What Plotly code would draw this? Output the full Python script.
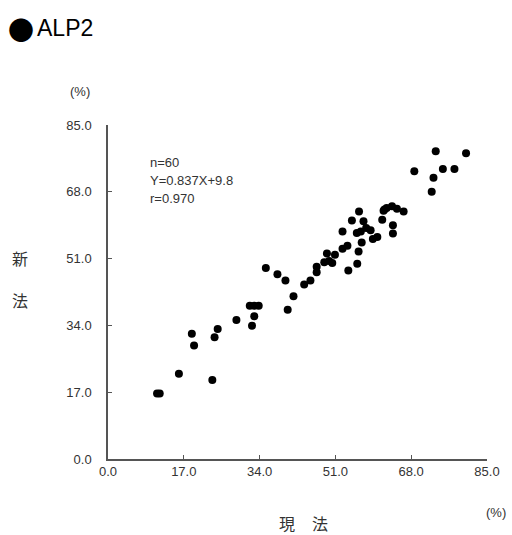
import plotly.graph_objects as go

current_method = [11.0, 11.6, 15.9, 18.8, 19.3, 23.4, 23.9, 24.6, 28.8, 32.3,
                  32.8, 31.8, 32.8, 33.8, 35.4, 38.0, 39.8, 40.3, 41.6, 44.0,
                  45.4, 46.8, 46.8, 48.5, 50.3, 49.6, 49.1, 50.9, 53.9, 55.9,
                  52.6, 53.7, 56.2, 56.9, 52.6, 55.8, 56.7, 57.9, 58.9, 59.4,
                  60.4, 54.7, 57.3, 56.3, 61.5, 61.8, 62.5, 63.7, 64.8, 66.3,
                  63.9, 63.9, 62.0, 68.7, 72.6, 73.0, 73.5, 75.1, 77.7, 80.3]
new_method = [16.7, 16.7, 21.7, 31.9, 28.9, 20.1, 31.0, 33.1, 35.4, 33.9,
              36.3, 39.0, 39.0, 39.0, 48.6, 47.0, 45.4, 38.0, 41.4, 44.4,
              45.4, 47.5, 48.9, 50.1, 49.9, 50.4, 52.3, 52.0, 48.0, 49.7,
              53.5, 54.3, 52.8, 55.1, 57.9, 57.5, 57.9, 58.8, 58.2, 56.0,
              56.5, 60.7, 60.5, 63.0, 60.9, 63.2, 63.9, 64.3, 63.7, 63.0,
              59.5, 57.4, 63.5, 73.2, 68.0, 71.6, 78.3, 73.8, 73.8, 77.8]
tick_vals = [0, 17, 34, 51, 68, 85]
tick_text = ["0.0", "17.0", "34.0", "51.0", "68.0", "85.0"]

FONT = "Liberation Sans, Arial, sans-serif"
CJK = "Noto Sans CJK JP"
GRAY = "#333333"

fig = go.Figure()
fig.add_trace(go.Scatter(
    x=current_method, y=new_method, mode="markers",
    marker=dict(color="black", size=8), cliponaxis=False, hoverinfo="skip"))

axis_common = dict(
    range=[0, 85], tickvals=tick_vals, ticktext=tick_text,
    showline=True, linecolor="#555555", linewidth=1.5, mirror=False,
    ticks="inside", ticklen=4, tickwidth=1, tickcolor="#555555",
    showgrid=False, zeroline=False,
    tickfont=dict(family=FONT, size=13, color=GRAY),
)

fig.update_xaxes(**axis_common, ticklabelstandoff=0)
fig.update_yaxes(**axis_common, ticklabelstandoff=12)

PL, PR, PT, PB = 108, 487, 125, 459


def px_to_paper(px, py):
    return (px - PL) / (PR - PL), (PB - py) / (PB - PT)


def add_text(text, px, py, font, xanchor="center"):
    x, y = px_to_paper(px, py)
    annotations.append(dict(text=text, x=x, y=y, xref="paper", yref="paper",
                            showarrow=False, xanchor=xanchor, yanchor="middle",
                            font=font))


annotations = []
add_text("●", 21, 28, dict(family=CJK, size=26, color="black"))
add_text("ALP2", 35, 28, dict(family=FONT, size=23, color="black"), "left")
add_text("(%)", 80, 92, dict(family=FONT, size=13, color=GRAY))
add_text("(%)", 496, 512, dict(family=FONT, size=13, color=GRAY))
add_text("新", 20, 258, dict(family=CJK, size=16, color=GRAY))
add_text("法", 20, 300, dict(family=CJK, size=16, color=GRAY))
add_text("現", 287, 523, dict(family=CJK, size=16, color=GRAY))
add_text("法", 320, 523, dict(family=CJK, size=16, color=GRAY))

stats = ["n=60", "Y=0.837X+9.8", "r=0.970"]
for i, s in enumerate(stats):
    add_text(s, 148, 162 + 18 * i, dict(family=FONT, size=13, color=GRAY), "left")

fig.update_layout(
    width=512, height=535, autosize=False,
    margin=dict(l=PL, r=512 - PR, t=PT, b=535 - PB),
    plot_bgcolor="white", paper_bgcolor="white",
    showlegend=False, annotations=annotations,
)

fig.write_html("out.html")
